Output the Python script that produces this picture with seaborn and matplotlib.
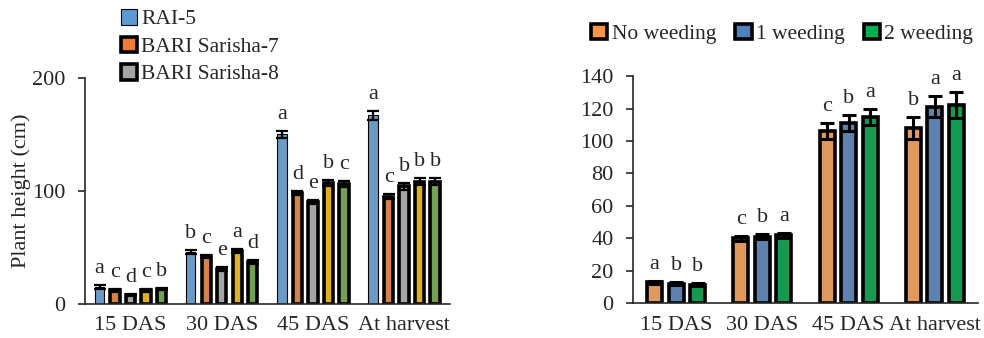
import pandas as pd
import matplotlib
matplotlib.use('Agg')
import matplotlib.pyplot as plt
from matplotlib.patches import Patch
import seaborn as sns

stages = ['15 DAS', '30 DAS', '45 DAS', 'At harvest']

# left panel: varieties (only the first three appear in the legend)
varieties = ['RAI-5', 'BARI Sarisha-7', 'BARI Sarisha-8', 'Variety 4', 'Variety 5']
var_height = [
    [15, 12, 8, 12, 13],
    [46, 42, 31, 47, 37],
    [150, 98, 90, 107, 106],
    [167, 95, 104, 108, 108],
]
var_err = [
    [2, 1, 1, 1, 1],
    [2, 1.5, 1.5, 1.5, 1.5],
    [3, 2, 2, 3, 3],
    [4, 2, 3, 3, 3],
]
var_letters = [
    ['a', 'c', 'd', 'c', 'b'],
    ['b', 'c', 'e', 'a', 'd'],
    ['a', 'd', 'e', 'b', 'c'],
    ['a', 'c', 'b', 'b', 'b'],
]
var_colors = ['#5B9BD5', '#ED7D31', '#A5A5A5', '#FFC000', '#70AD47']

# right panel: weeding
weeding = ['No weeding', '1 weeding', '2 weeding']
weed_height = [
    [13, 12, 11.5],
    [40, 41, 42],
    [106, 111, 115],
    [108, 121, 122],
]
weed_err = [
    [1, 1, 1],
    [1.5, 1.5, 1.5],
    [5, 5, 5],
    [7, 6.5, 8],
]
weed_letters = [
    ['a', 'b', 'b'],
    ['c', 'b', 'a'],
    ['c', 'b', 'a'],
    ['b', 'a', 'a'],
]
weed_colors = ['#F79646', '#4F81BD', '#00B050']

sns.set_theme(style='ticks')
plt.rcParams['font.family'] = ['Liberation Serif', 'DejaVu Serif']
FS = 16
LFS = 15.5


def long_df(heights, errs, letters, groups):
    rows = []
    for i, st in enumerate(stages):
        for j, g in enumerate(groups):
            rows.append({'stage': st, 'group': g, 'height': heights[i][j],
                         'err': errs[i][j], 'letter': letters[i][j]})
    return pd.DataFrame(rows)


def draw(ax, df, groups, colors, width, gap, ymax, yticks, elw, cap, thin_first=False):
    sns.barplot(data=df, x='stage', y='height', hue='group', hue_order=groups,
                order=stages, palette=colors, width=width, gap=gap,
                errorbar=None, edgecolor='black', linewidth=2.6, ax=ax,
                legend=False)
    bars = list(ax.containers)
    for j, cont in enumerate(bars):
        sub = df[df['group'] == groups[j]].set_index('stage').loc[stages]
        xs = [b.get_x() + b.get_width() / 2 for b in cont]
        hs = [b.get_height() for b in cont]
        if thin_first and j == 0:
            for b in cont:
                b.set_linewidth(0.8)
        ax.errorbar(xs, hs, yerr=sub['err'].values, fmt='none', ecolor='black',
                    elinewidth=elw, capsize=cap, capthick=elw, zorder=5)
        for x, h, e, lt in zip(xs, hs, sub['err'].values, sub['letter'].values):
            ax.annotate(lt, (x, h + e), xytext=(0, 5), textcoords='offset points',
                        ha='center', va='bottom', fontsize=FS)
    ax.set_xlim(-0.5, 3.5)
    ax.set_ylim(0, ymax)
    ax.set_yticks(yticks)
    ax.set_xlabel('')
    ax.tick_params(axis='x', length=0, pad=9, labelsize=FS)
    ax.tick_params(axis='y', length=5, width=1.2, pad=9, direction='out', labelsize=FS)
    sns.despine(ax=ax)
    ax.spines['left'].set_linewidth(1.2)
    ax.spines['bottom'].set_linewidth(1.2)
    ax.grid(False)


fig = plt.figure(figsize=(9.84, 3.38), dpi=100)
ax1 = fig.add_axes([0.0864, 0.1006, 0.3706, 0.6694])
ax2 = fig.add_axes([0.6433, 0.1027, 0.3506, 0.6723])

df1 = long_df(var_height, var_err, var_letters, varieties)
draw(ax1, df1, varieties, var_colors, 0.85, 0.4, 200, [0, 100, 200], 1.6, 4, thin_first=True)
ax1.set_ylabel('Plant height (cm)', fontsize=FS)
ax1.yaxis.set_label_coords(-0.147, 0.5)

df2 = long_df(weed_height, weed_err, weed_letters, weeding)
draw(ax2, df2, weeding, weed_colors, 0.75, 0.3, 140, list(range(0, 141, 20)), 2.2, 5)
ax2.set_ylabel('')

h1 = [Patch(facecolor=var_colors[0], edgecolor='black', linewidth=0.8)] + \
     [Patch(facecolor=c, edgecolor='black', linewidth=2.6) for c in var_colors[1:3]]
fig.legend(h1, varieties[:3], loc='upper left', bbox_to_anchor=(0.112, 1.005),
           frameon=False, labelspacing=0.33, handlelength=0.75, handleheight=0.75,
           handletextpad=0.2, borderaxespad=0.1, fontsize=LFS)

h2 = [Patch(facecolor=c, edgecolor='black', linewidth=2.6) for c in weed_colors]
fig.legend(h2, weeding, loc='center', bbox_to_anchor=(0.795, 0.9), ncol=3,
           frameon=False, columnspacing=0.9, handlelength=0.75, handleheight=0.75,
           handletextpad=0.2, borderaxespad=0, fontsize=LFS)

fig.savefig('out.png', dpi=100)
